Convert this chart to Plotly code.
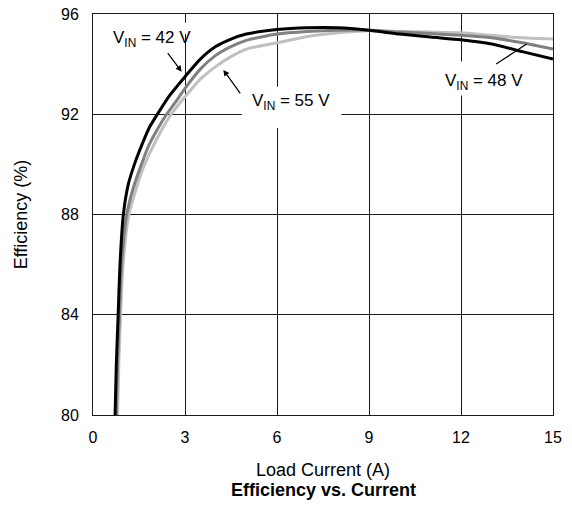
import plotly.graph_objects as go

# Data
x_42 = [0.72, 0.76, 0.82, 0.88, 0.99, 1.15, 1.35, 1.6, 1.85, 2.1, 2.5, 3.0, 3.5, 4.0, 4.5, 5.0, 6.0, 7.0, 8.0, 9.0, 10.0, 11.0, 12.0, 13.0, 14.0, 15.0]
y_42 = [80, 82, 84, 86, 88, 89.2, 90.0, 90.8, 91.5, 92.0, 92.75, 93.5, 94.2, 94.7, 95.0, 95.2, 95.38, 95.45, 95.45, 95.35, 95.2, 95.08, 94.97, 94.8, 94.5, 94.2]

x_48 = [0.76, 0.8, 0.86, 0.93, 1.1, 1.3, 1.55, 1.8, 2.1, 2.4, 2.7, 3.0, 3.5, 4.0, 4.5, 5.0, 6.0, 7.0, 8.0, 9.0, 10.0, 11.0, 12.0, 13.0, 14.0, 15.0]
y_48 = [80, 82, 84, 86, 88, 89.0, 89.9, 90.7, 91.4, 92.0, 92.5, 93.03, 93.8, 94.35, 94.7, 94.95, 95.2, 95.3, 95.35, 95.35, 95.28, 95.22, 95.15, 95.05, 94.85, 94.6]

x_55 = [0.8, 0.84, 0.9, 0.98, 1.17, 1.4, 1.65, 1.95, 2.25, 2.55, 2.8, 3.0, 3.5, 4.0, 4.5, 5.0, 6.0, 7.0, 8.0, 9.0, 10.0, 11.0, 12.0, 13.0, 14.0, 15.0]
y_55 = [80, 82, 84, 86, 88, 89.0, 89.9, 90.7, 91.4, 92.0, 92.4, 92.7, 93.4, 93.9, 94.3, 94.6, 94.85, 95.1, 95.25, 95.33, 95.3, 95.28, 95.25, 95.15, 95.05, 95.0]

x_ticks = [0, 3, 6, 9, 12, 15]
y_ticks = [80, 84, 88, 92, 96]

FONT = "Liberation Sans, Arial, Helvetica, sans-serif"

fig = go.Figure()
for xs, ys, col in [(x_55, y_55, "#c0c0c0"), (x_48, y_48, "#808080"), (x_42, y_42, "#000000")]:
    fig.add_trace(go.Scatter(x=xs, y=ys, mode="lines",
                             line=dict(color=col, width=3, shape="spline", smoothing=0.6),
                             showlegend=False, hoverinfo="skip"))

# white boxes hiding gridlines behind labels
for x0, x1, y0, y1 in [(0.45, 3.5, 95.2, 95.65), (4.85, 8.1, 91.45, 93.1), (11.1, 14.45, 92.75, 94.1)]:
    fig.add_shape(type="rect", xref="x", yref="y", x0=x0, x1=x1, y0=y0, y1=y1,
                  fillcolor="white", line=dict(width=0), layer="between")

lab_font = dict(family=FONT, size=17, color="black")
fig.add_annotation(x=1.92, y=95.02, text="V<sub>IN</sub> = 42 V", showarrow=False, font=lab_font)
fig.add_annotation(x=6.45, y=92.47, text="V<sub>IN</sub> = 55 V", showarrow=False, font=lab_font)
fig.add_annotation(x=12.75, y=93.3, text="V<sub>IN</sub> = 48 V", showarrow=False, font=lab_font)

# arrows
fig.add_annotation(x=2.89, y=93.70, ax=-15, ay=-20, text="", showarrow=True,
                   arrowhead=2, arrowsize=1, arrowwidth=1.2, arrowcolor="black")
fig.add_annotation(x=4.25, y=93.77, ax=18, ay=25, text="", showarrow=True,
                   arrowhead=2, arrowsize=1, arrowwidth=1.2, arrowcolor="black")
fig.add_annotation(x=14.14, y=94.8, ax=-32, ay=21, text="", showarrow=True,
                   arrowhead=0, arrowwidth=1.2, arrowcolor="black")

fig.add_annotation(x=0.5, y=-0.187, xref="paper", yref="paper", yanchor="middle",
                   text="<b>Efficiency vs. Current</b>",
                   showarrow=False, font=dict(family=FONT, size=18, color="black"))

axis_common = dict(showgrid=True, gridcolor="#1a1a1a", gridwidth=1, showline=True, linecolor="#1a1a1a",
                   linewidth=1, mirror=True, ticks="", zeroline=False, automargin=False,
                   tickfont=dict(family=FONT, size=16, color="black"))
fig.update_xaxes(range=[0, 15], tickvals=x_ticks, title=dict(text="Load Current (A)", standoff=18,
                 font=dict(family=FONT, size=18, color="black")), ticklabelstandoff=8, **axis_common)
fig.update_yaxes(range=[80, 96], tickvals=y_ticks, title=dict(text="Efficiency (%)", standoff=28,
                 font=dict(family=FONT, size=18, color="black")), ticklabelstandoff=10, **axis_common)

fig.update_layout(width=572, height=510, margin=dict(l=93, r=19, t=14, b=95),
                  plot_bgcolor="white", paper_bgcolor="white", font=dict(family=FONT))

fig.write_html("out.html", config={"displayModeBar": False},
               post_script="document.body.style.margin='0';document.body.style.overflow='hidden';")
